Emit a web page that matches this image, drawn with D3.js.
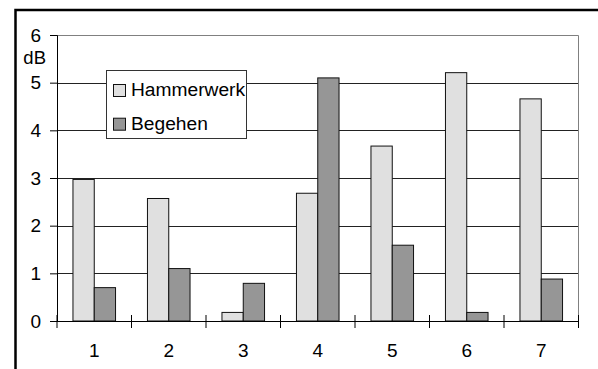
<!DOCTYPE html>
<html>
<head>
<meta charset="utf-8">
<script src="https://cdn.jsdelivr.net/npm/d3@7"></script>
<style>
  html, body { margin: 0; padding: 0; background: #fff; }
  svg { display: block; }
  text { font-family: "Liberation Sans", Arial, sans-serif; fill: #000; }
</style>
</head>
<body>
<svg id="chart" width="598" height="369"></svg>
<script>
// Measurement positions and level differences in dB
const categories = ["1", "2", "3", "4", "5", "6", "7"];
const seriesNames = ["Hammerwerk", "Begehen"];
const hammerwerk = [2.97, 2.57, 0.18, 2.68, 3.67, 5.21, 4.66];
const begehen = [0.70, 1.10, 0.79, 5.10, 1.59, 0.18, 0.88];
const yTicks = [0, 1, 2, 3, 4, 5, 6];
const unitLabel = "dB";

const colors = { Hammerwerk: "#e0e0e0", Begehen: "#969696" };

const svg = d3.select("#chart");
const plot = { left: 57, right: 578.5, top: 35, bottom: 321 };

// outer frame (runs off the right and bottom edges)
svg.append("rect")
  .attr("x", 15.5).attr("y", 10)
  .attr("width", 700).attr("height", 500)
  .attr("fill", "none").attr("stroke", "#000").attr("stroke-width", 2.5);

const x = d3.scaleBand().domain(categories).range([plot.left, plot.right]).padding(0);
const xInner = d3.scaleBand().domain(seriesNames).range([0, x.bandwidth()])
  .paddingInner(0).paddingOuter(0.75);
const y = d3.scaleLinear().domain([0, 6]).range([plot.bottom, plot.top]);

// gridlines
svg.append("g").selectAll("line")
  .data(yTicks.filter(d => d > 0))
  .join("line")
  .attr("x1", plot.left).attr("x2", plot.right)
  .attr("y1", d => Math.round(y(d)) + 0.5).attr("y2", d => Math.round(y(d)) + 0.5)
  .attr("stroke", d => d === 6 ? "#808080" : "#222")
  .attr("stroke-width", 1);

// right edge of plot area
svg.append("line")
  .attr("x1", plot.right).attr("x2", plot.right)
  .attr("y1", Math.round(y(6)) + 0.5).attr("y2", plot.bottom)
  .attr("stroke", "#808080").attr("stroke-width", 1);

// bars
const rows = categories.map((c, i) => ({ cat: c, values: [
  { key: "Hammerwerk", value: hammerwerk[i] },
  { key: "Begehen", value: begehen[i] }
]}));

svg.append("g").selectAll("g")
  .data(rows)
  .join("g")
  .attr("transform", d => `translate(${x(d.cat)},0)`)
  .selectAll("rect")
  .data(d => d.values)
  .join("rect")
  .attr("x", d => xInner(d.key))
  .attr("y", d => y(d.value))
  .attr("width", xInner.bandwidth())
  .attr("height", d => y(0) - y(d.value))
  .attr("fill", d => colors[d.key])
  .attr("stroke", "#111")
  .attr("stroke-width", 1);

// y axis
const yAxis = svg.append("g")
  .attr("transform", `translate(${plot.left},0)`)
  .call(d3.axisLeft(y).tickValues(yTicks).tickSize(7).tickPadding(9).tickFormat(d3.format("d")));
yAxis.select(".domain").attr("stroke", "#000");
yAxis.selectAll(".tick line").attr("stroke", "#000");
yAxis.selectAll("text").attr("font-size", 19).attr("font-family", "Liberation Sans, Arial, sans-serif");

svg.append("text")
  .attr("x", 46).attr("y", 63.5)
  .attr("text-anchor", "end")
  .attr("font-size", 18.5)
  .text(unitLabel);

// x axis with ticks at the category boundaries
const boundaries = categories.map(c => x(c)).concat([x(categories[categories.length - 1]) + x.bandwidth()]);
const xg = svg.append("g");
xg.append("line")
  .attr("x1", plot.left).attr("x2", plot.right)
  .attr("y1", plot.bottom + 0.5).attr("y2", plot.bottom + 0.5)
  .attr("stroke", "#000");
xg.selectAll(".bt")
  .data(boundaries)
  .join("line")
  .attr("class", "bt")
  .attr("x1", d => d).attr("x2", d => d)
  .attr("y1", plot.bottom - 6).attr("y2", plot.bottom + 7)
  .attr("stroke", "#000");
xg.selectAll("text")
  .data(categories)
  .join("text")
  .attr("x", d => x(d) + x.bandwidth() / 2)
  .attr("y", 357)
  .attr("text-anchor", "middle")
  .attr("font-size", 19)
  .text(d => d);

// legend
const legend = svg.append("g");
legend.append("rect")
  .attr("x", 106.5).attr("y", 70.5)
  .attr("width", 140).attr("height", 68)
  .attr("fill", "#fff").attr("stroke", "#333").attr("stroke-width", 1);
const items = legend.selectAll(".item")
  .data(seriesNames)
  .join("g")
  .attr("class", "item")
  .attr("transform", (d, i) => `translate(0,${i * 33.7})`);
items.append("rect")
  .attr("x", 113.5).attr("y", 84.5)
  .attr("width", 12).attr("height", 12)
  .attr("fill", d => colors[d]).attr("stroke", "#111");
items.append("text")
  .attr("x", 131).attr("y", 96)
  .attr("font-size", 19.2)
  .text(d => d);
</script>
</body>
</html>
